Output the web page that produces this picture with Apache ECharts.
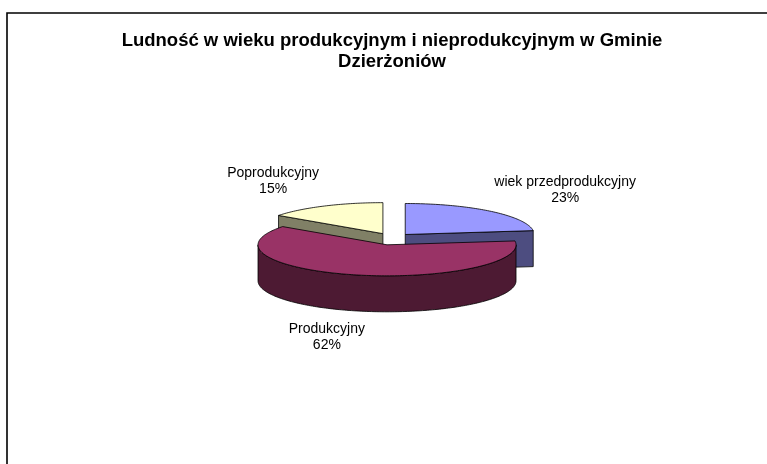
<!DOCTYPE html>
<html>
<head>
<meta charset="utf-8">
<script src="https://cdn.jsdelivr.net/npm/echarts@6/dist/echarts.min.js"></script>
<style>
  html, body { margin: 0; padding: 0; background: #fff; }
  #chart { width: 767px; height: 464px; }
</style>
</head>
<body>
<div id="chart"></div>
<script>
// chart data
const titleLines = ['Ludność w wieku produkcyjnym i nieprodukcyjnym w Gminie', 'Dzierżoniów'];
const categories = ['wiek przedprodukcyjny', 'Produkcyjny', 'Poprodukcyjny'];
const values = [23, 62, 15];

// colours (top face / side walls)
const topColors = ['#9999FF', '#993366', '#FFFFCC'];
const sideColors = ['#4D4D80', '#4D1A33', '#808066'];

// 3D pie geometry
const cx = 392, cy = 239;      // pie centre
const rx = 129, ry = 31;       // ellipse radii of the top face
const depth = 36;              // wall height
const explodeX = 20, explodeY = 6;
const labelRx = 2.03, labelRy = 2.08;

const FONT = '"Liberation Sans", Arial, sans-serif';
const total = values.reduce((a, b) => a + b, 0);

function sliceAngles(i) {
  let start = 0;
  for (let k = 0; k < i; k++) start += values[k] / total * Math.PI * 2;
  return [start, start + values[i] / total * Math.PI * 2];
}

function renderItem(params, api) {
  const i = params.dataIndex;
  const [start, end] = sliceAngles(i);
  const mid = (start + end) / 2;
  // exploded centre of this slice (angle 0 = 12 o'clock, clockwise)
  const ox = cx + explodeX * Math.sin(mid);
  const oy = cy - explodeY * Math.cos(mid);
  const pt = (a, dz) => [ox + rx * Math.sin(a), oy - ry * Math.cos(a) + (dz || 0)];
  const arc = (a0, a1, dz) => {
    const pts = [];
    const n = Math.max(2, Math.ceil(Math.abs(a1 - a0) / 0.02));
    for (let s = 0; s <= n; s++) pts.push(pt(a0 + (a1 - a0) * s / n, dz));
    return pts;
  };
  const base = Math.round(oy * 10);
  const stroke = { stroke: '#000', lineWidth: 0.8, lineJoin: 'round' };
  const children = [];
  const apex = [ox, oy], apexLow = [ox, oy + depth];

  // radial cut faces facing the viewer
  if (Math.sin(start) < -1e-6) {
    children.push({
      type: 'polygon', z2: base,
      shape: { points: [apex, pt(start), pt(start, depth), apexLow] },
      style: Object.assign({ fill: sideColors[i] }, stroke)
    });
  }
  if (Math.sin(end) > 1e-6) {
    children.push({
      type: 'polygon', z2: base,
      shape: { points: [apex, pt(end), pt(end, depth), apexLow] },
      style: Object.assign({ fill: sideColors[i] }, stroke)
    });
  }
  // outer wall: front half only (90..270 deg)
  const w0 = Math.max(start, Math.PI / 2), w1 = Math.min(end, Math.PI * 1.5);
  if (w1 > w0) {
    const pts = arc(w0, w1).concat(arc(w1, w0, depth));
    children.push({
      type: 'polygon', z2: base + 1,
      shape: { points: pts },
      style: Object.assign({ fill: sideColors[i] }, stroke)
    });
  }
  // top face
  children.push({
    type: 'polygon', z2: base + 2,
    shape: { points: [apex].concat(arc(start, end)) },
    style: Object.assign({ fill: topColors[i] }, stroke)
  });
  // label
  const front = Math.cos(mid) < 0 ? depth : 0;
  children.push({
    type: 'text', z2: 10000,
    x: cx + rx * labelRx * Math.sin(mid),
    y: cy - ry * labelRy * Math.cos(mid) + front,
    style: {
      text: categories[i] + '\n' + Math.round(values[i] / total * 100) + '%',
      font: '14px ' + FONT,
      fill: '#000',
      align: 'center',
      verticalAlign: 'middle',
      lineHeight: 16
    }
  });
  return { type: 'group', children: children };
}

const myChart = echarts.init(document.getElementById('chart'));

const option = {
  animation: false,
  graphic: [
    {
      type: 'rect',
      shape: { x: 7, y: 13, width: 800, height: 500 },
      style: { fill: 'none', stroke: '#000', lineWidth: 1.6 }
    },
    {
      type: 'text',
      x: 392, y: 51,
      style: {
        text: titleLines.join('\n'),
        font: 'bold 18.5px ' + FONT,
        fill: '#000',
        align: 'center',
        verticalAlign: 'middle',
        lineHeight: 21
      }
    }
  ],
  series: [
    {
      type: 'custom',
      coordinateSystem: 'none',
      renderItem: renderItem,
      data: values.map((v, i) => ({ name: categories[i], value: v }))
    }
  ]
};

myChart.setOption(option);
</script>
</body>
</html>
